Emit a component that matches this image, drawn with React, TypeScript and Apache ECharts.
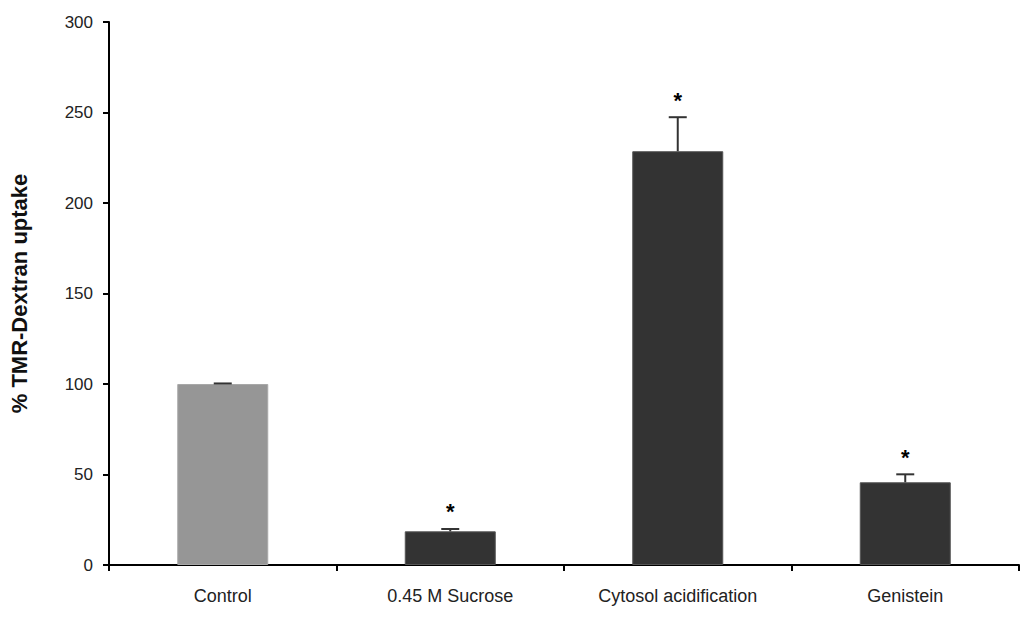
import React, { useEffect, useRef } from "react";
import * as echarts from "echarts";

const categories = ["Control", "0.45 M Sucrose", "Cytosol acidification", "Genistein"];
const means = [100, 18.6, 228.6, 45.7];
const errors = [0.3, 1.3, 18.8, 4.4];
const stars = ["", "*", "*", "*"];
const barColors = ["#969696", "#333333", "#333333", "#333333"];
const yTicks = { min: 0, max: 300, interval: 50 };

export default function App() {
  const ref = useRef<HTMLDivElement>(null);
  useEffect(() => {
    const chart = echarts.init(ref.current!, null, { renderer: "svg" });
    const font = "'Liberation Sans', Arial, sans-serif";
    chart.setOption({
      animation: false,
      backgroundColor: "#ffffff",
      grid: { left: 101, right: 6, top: 22, bottom: 54, containLabel: false },
      xAxis: {
        type: "category",
        data: categories,
        boundaryGap: true,
        axisLine: { lineStyle: { color: "#000", width: 2 } },
        axisTick: { show: true, length: 6, lineStyle: { color: "#000", width: 2 } },
        axisLabel: { color: "#222", fontSize: 18, fontFamily: font, margin: 22 },
        splitLine: { show: false },
      },
      yAxis: {
        type: "value",
        min: yTicks.min,
        max: yTicks.max,
        interval: yTicks.interval,
        name: "% TMR-Dextran uptake",
        nameLocation: "middle",
        nameGap: 79,
        nameRotate: 90,
        nameTextStyle: { color: "#111", fontSize: 22, fontWeight: "bold", fontFamily: font },
        axisLine: { show: true, lineStyle: { color: "#000", width: 2 } },
        axisTick: { show: true, length: 6, lineStyle: { color: "#000", width: 2 } },
        axisLabel: { color: "#222", fontSize: 17, fontFamily: font, margin: 16 },
        splitLine: { show: false },
      },
      series: [
        {
          type: "bar",
          barWidth: "40%",
          data: means.map((v, i) => ({
            value: v,
            itemStyle: { color: barColors[i], borderColor: i === 0 ? "#a8a8a8" : "#555", borderWidth: 1 },
          })),
        },
        {
          type: "custom",
          z: 5,
          data: means.map((v, i) => [i, v, errors[i]]),
          renderItem: (params: any, api: any) => {
            const i = api.value(0);
            const m = api.value(1);
            const e = api.value(2);
            const base = api.coord([i, m]);
            const top = api.coord([i, m + e]);
            const half = 9;
            const children: any[] = [
              {
                type: "line",
                shape: { x1: base[0], y1: base[1], x2: top[0], y2: top[1] },
                style: { stroke: "#333", lineWidth: 2 },
              },
              {
                type: "line",
                shape: { x1: top[0] - half, y1: top[1], x2: top[0] + half, y2: top[1] },
                style: { stroke: "#333", lineWidth: 2 },
              },
            ];
            const s = stars[params.dataIndex];
            if (s) {
              children.push({
                type: "text",
                x: top[0],
                y: top[1] - 6,
                style: {
                  text: s,
                  fill: "#000",
                  font: "bold 22px " + font,
                  align: "center",
                  verticalAlign: "bottom",
                },
              });
            }
            return { type: "group", children };
          },
        },
      ],
    });
    return () => chart.dispose();
  }, []);
  return (
    <div
      ref={ref}
      style={{ position: "fixed", left: 0, top: 0, width: 1025, height: 619 }}
    />
  );
}
